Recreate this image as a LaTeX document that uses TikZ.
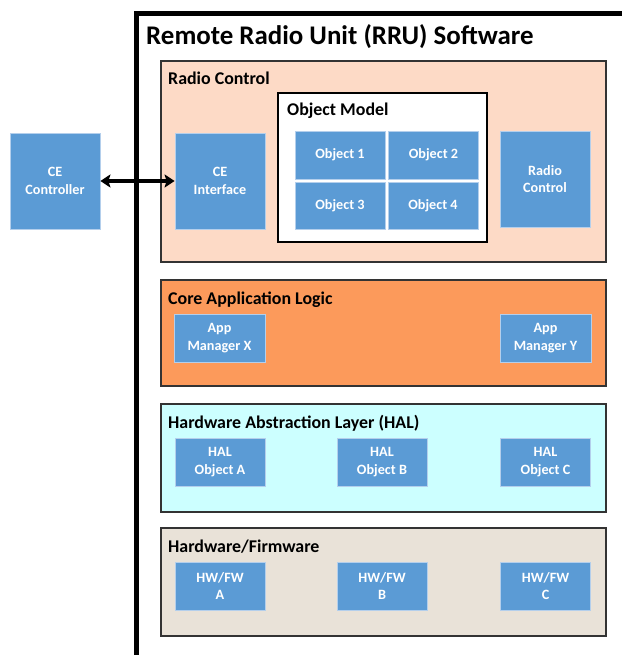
\documentclass[tikz,border=0pt]{standalone}
\usepackage{fontspec}
\setmainfont{Carlito}
\usetikzlibrary{arrows.meta}
\definecolor{peach}{HTML}{FDDAC6}
\definecolor{orng}{HTML}{FC9A5B}
\definecolor{halc}{HTML}{CCFFFF}
\definecolor{hwc}{HTML}{E9E2D8}
\definecolor{blu}{HTML}{5B9BD5}
\definecolor{bluedge}{HTML}{B4CFEC}
\tikzset{
  panel/.style={draw=black!80, line width=1.3pt, anchor=north west, inner sep=0pt, outer sep=0pt},
  plabel/.style={anchor=base west, inner sep=0pt, font={\bfseries\fontsize{17.9}{21}\selectfont}},
  blk/.style={draw=bluedge, line width=0.8pt, fill=blu, text=white, align=center, inner sep=0pt,
    minimum width=90, minimum height=48, font={\bfseries\fontsize{14.2}{17.3}\selectfont}},
  frame/.style={line width=5pt, line join=miter},
  mytip/.tip={Stealth[length=10pt,width=13pt,inset=2pt]}
}
\begin{document}
\begin{tikzpicture}[x=1pt,y=-1pt]
\useasboundingbox (0,0) rectangle (622,655);
% outer frame
\coordinate (fb) at (136.5,655);
\coordinate (fc) at (136.5,13.5);
\coordinate (fr) at (622,13.5);
\draw[frame] (fb) -- (fc) -- (fr);
\node[anchor=base west, inner sep=0pt, font={\bfseries\fontsize{26.9}{30}\selectfont}] (title) at (146,45) {Remote Radio Unit (RRU) Software};

% Radio control panel
\node[panel, fill=peach, minimum width=445, minimum height=201] (rcp) at (161,61) {};
\node[plabel] (rcl) at (168,84.5) {Radio Control};
\node[panel, fill=white, draw=black, line width=1.5pt, minimum width=209, minimum height=149] (om) at (278,93) {};
\node[plabel] (oml) at (287,116) {Object Model};
\node[blk] (o1) at (340,155) {Object 1};
\node[blk] (o2) at (433.5,155) {Object 2};
\node[blk, minimum height=47] (o3) at (340,205.5) {Object 3};
\node[blk, minimum height=47] (o4) at (433,205.5) {Object 4};
\node[blk, minimum height=96] (rci) at (545,179) {Radio\\Control};
\node[blk, minimum height=96] (cei) at (220,181) {CE\\Interface};
\node[blk, minimum height=96] (cec) at (55,181) {CE\\Controller};

% Core application logic
\node[panel, fill=orng, minimum width=445, minimum height=106] (cal) at (161,280) {};
\node[plabel] (call) at (168,304) {Core Application Logic};
\node[blk, minimum width=91] (amx) at (219.5,338) {App\\Manager X};
\node[blk, minimum width=91] (amy) at (545.5,338) {App\\Manager Y};

% HAL
\node[panel, fill=halc, minimum width=445, minimum height=108] (hal) at (161,404) {};
\node[plabel] (hall) at (168,428) {Hardware Abstraction Layer (HAL)};
\node[blk] (ha) at (220,462) {HAL\\Object A};
\node[blk] (hb) at (382,462) {HAL\\Object B};
\node[blk] (hc) at (545.5,462) {HAL\\Object C};

% HW/FW
\node[panel, fill=hwc, minimum width=445, minimum height=108] (hw) at (161,528) {};
\node[plabel] (hwl) at (168,552) {Hardware/Firmware};
\node[blk] (wa) at (220,586) {HW/FW\\A};
\node[blk] (wb) at (382,586) {HW/FW\\B};
\node[blk] (wc) at (545.5,586) {HW/FW\\C};

% arrow
\draw[line width=3.6pt, mytip-mytip] (cec.east) -- (cei.west);
\end{tikzpicture}
\end{document}
